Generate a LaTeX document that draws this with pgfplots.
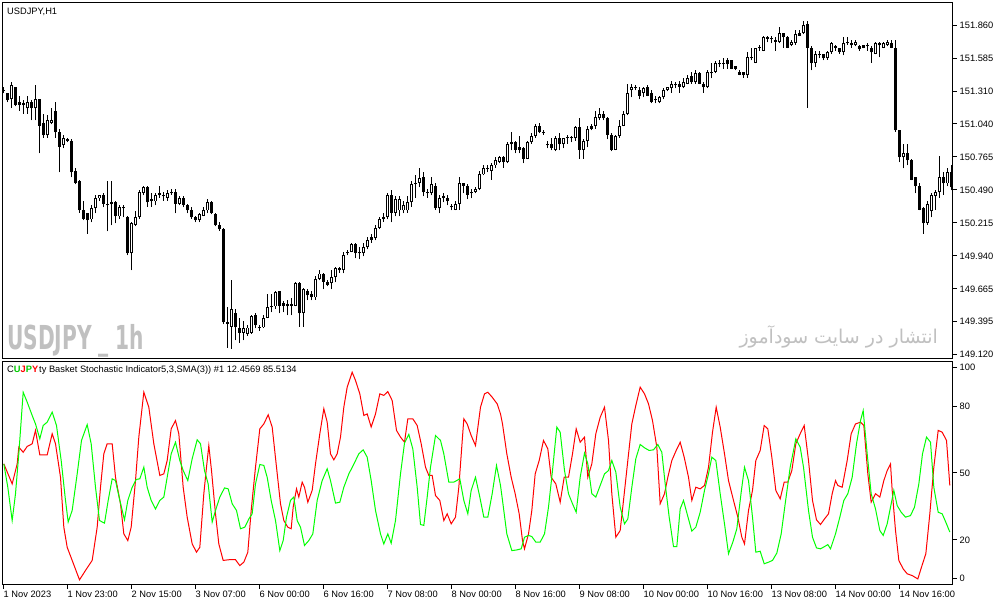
\documentclass[border=0pt]{standalone}
\usepackage{fontspec}
\setmainfont{Liberation Sans}
\newfontfamily\arabicfont[Script=Arabic]{DejaVu Sans}
\newfontfamily\wmfont{DejaVu Sans Condensed}
\TeXXeTstate=1
\usepackage{pgfplots}
\usepackage{pgfplotstable}
\pgfplotsset{compat=1.18}
\definecolor{wm}{RGB}{192,192,192}
\newcommand{\tf}{\fontsize{9.3bp}{11bp}\selectfont}

\pgfplotstableread{
i o h l c
0 151.326 151.351 151.293 151.310
1 151.293 151.301 151.218 151.235
2 151.243 151.385 151.176 151.360
3 151.343 151.351 151.185 151.201
4 151.218 151.276 151.151 151.201
5 151.210 151.235 151.126 151.193
6 151.168 151.276 151.126 151.218
7 151.218 151.235 151.068 151.168
8 151.168 151.360 151.068 151.243
9 151.243 151.251 150.793 151.026
10 151.043 151.126 150.926 150.943
11 150.943 151.110 150.926 151.068
12 151.043 151.168 151.035 151.076
13 151.151 151.226 150.926 150.968
14 150.976 151.001 150.635 150.851
15 150.860 150.943 150.835 150.918
16 150.910 150.926 150.885 150.893
17 150.901 150.910 150.593 150.635
18 150.651 150.676 150.535 150.551
19 150.560 150.568 150.301 150.318
20 150.326 150.393 150.235 150.251
21 150.293 150.301 150.126 150.235
22 150.243 150.360 150.218 150.335
23 150.335 150.443 150.293 150.418
24 150.418 150.451 150.401 150.443
25 150.451 150.460 150.343 150.376
26 150.360 150.560 150.143 150.376
27 150.385 150.560 150.193 150.368
28 150.385 150.401 150.210 150.268
29 150.268 150.360 150.251 150.343
30 150.351 150.360 150.260 150.335
31 150.260 150.276 149.943 149.960
32 149.960 150.226 149.818 150.210
33 150.201 150.310 150.185 150.260
34 150.260 150.485 150.251 150.468
35 150.460 150.526 150.443 150.510
36 150.510 150.526 150.351 150.385
37 150.410 150.460 150.351 150.393
38 150.393 150.460 150.360 150.443
39 150.443 150.518 150.426 150.460
40 150.435 150.468 150.401 150.451
41 150.426 150.485 150.401 150.460
42 150.460 150.501 150.451 150.476
43 150.476 150.493 150.293 150.376
44 150.376 150.435 150.360 150.418
45 150.418 150.435 150.343 150.360
46 150.360 150.368 150.293 150.318
47 150.326 150.343 150.251 150.260
48 150.260 150.276 150.218 150.235
49 150.235 150.293 150.218 150.285
50 150.276 150.343 150.268 150.318
51 150.318 150.410 150.293 150.385
52 150.385 150.401 150.285 150.293
53 150.285 150.301 150.185 150.193
54 150.201 150.218 150.151 150.160
55 150.160 150.168 149.368 149.385
56 149.376 149.510 149.176 149.385
57 149.351 149.735 149.168 149.501
58 149.460 149.501 149.235 149.343
59 149.343 149.418 149.218 149.301
60 149.301 149.401 149.235 149.335
61 149.293 149.360 149.276 149.343
62 149.301 149.443 149.293 149.435
63 149.443 149.460 149.335 149.360
64 149.335 149.368 149.318 149.351
65 149.343 149.443 149.335 149.426
66 149.426 149.626 149.418 149.510
67 149.510 149.626 149.468 149.518
68 149.518 149.651 149.501 149.635
69 149.643 149.651 149.460 149.526
70 149.551 149.568 149.468 149.526
71 149.535 149.568 149.443 149.518
72 149.535 149.585 149.443 149.526
73 149.526 149.718 149.518 149.710
74 149.710 149.718 149.351 149.460
75 149.460 149.676 149.351 149.660
76 149.651 149.668 149.568 149.610
77 149.626 149.651 149.568 149.593
78 149.593 149.776 149.576 149.751
79 149.751 149.818 149.735 149.793
80 149.793 149.801 149.660 149.726
81 149.718 149.735 149.685 149.701
82 149.710 149.818 149.660 149.760
83 149.760 149.851 149.718 149.835
84 149.835 149.851 149.801 149.818
85 149.826 149.968 149.793 149.951
86 149.960 149.985 149.943 149.968
87 149.976 150.051 149.968 150.035
88 150.035 150.051 149.918 149.960
89 149.968 150.010 149.910 149.960
90 149.960 150.043 149.935 150.010
91 150.010 150.101 149.993 150.076
92 150.076 150.118 150.051 150.093
93 150.085 150.193 150.068 150.176
94 150.176 150.260 150.160 150.251
95 150.243 150.293 150.226 150.260
96 150.260 150.460 150.243 150.443
97 150.443 150.485 150.218 150.301
98 150.301 150.435 150.268 150.410
99 150.318 150.435 150.268 150.410
100 150.318 150.401 150.293 150.360
101 150.318 150.435 150.301 150.385
102 150.385 150.560 150.351 150.535
103 150.535 150.610 150.426 150.551
104 150.551 150.676 150.510 150.585
105 150.593 150.635 150.435 150.468
106 150.476 150.493 150.426 150.460
107 150.460 150.601 150.443 150.535
108 150.526 150.543 150.326 150.335
109 150.335 150.443 150.293 150.426
110 150.435 150.460 150.385 150.418
111 150.426 150.443 150.360 150.393
112 150.351 150.368 150.318 150.343
113 150.326 150.393 150.318 150.376
114 150.376 150.593 150.326 150.543
115 150.543 150.551 150.460 150.526
116 150.526 150.535 150.410 150.451
117 150.476 150.501 150.418 150.460
118 150.468 150.510 150.460 150.493
119 150.501 150.651 150.485 150.626
120 150.618 150.693 150.610 150.668
121 150.676 150.701 150.635 150.660
122 150.651 150.710 150.576 150.693
123 150.693 150.760 150.676 150.735
124 150.726 150.776 150.710 150.760
125 150.760 150.776 150.676 150.718
126 150.718 150.885 150.710 150.868
127 150.868 150.968 150.818 150.885
128 150.885 150.893 150.793 150.826
129 150.843 150.935 150.793 150.826
130 150.835 150.843 150.710 150.751
131 150.751 150.901 150.743 150.885
132 150.885 150.960 150.876 150.935
133 150.935 151.035 150.926 151.018
134 151.018 151.043 150.960 150.968
135 150.976 150.985 150.951 150.960
136 150.876 150.901 150.835 150.860
137 150.876 150.918 150.818 150.835
138 150.826 150.935 150.810 150.918
139 150.918 150.960 150.818 150.868
140 150.868 150.926 150.835 150.918
141 150.926 150.943 150.876 150.918
142 150.926 150.935 150.885 150.918
143 150.918 151.026 150.901 151.010
144 151.010 151.085 150.751 150.826
145 150.826 150.910 150.751 150.893
146 150.893 151.018 150.843 151.001
147 151.001 151.035 150.985 151.018
148 151.018 151.151 151.001 151.093
149 151.085 151.168 151.068 151.126
150 151.126 151.151 151.068 151.085
151 151.085 151.101 150.910 150.951
152 150.951 150.960 150.810 150.826
153 150.826 150.951 150.818 150.935
154 150.935 151.068 150.926 151.026
155 151.026 151.151 151.018 151.126
156 151.126 151.376 151.110 151.301
157 151.318 151.376 151.260 151.351
158 151.351 151.360 151.318 151.335
159 151.318 151.343 151.243 151.276
160 151.293 151.351 151.260 151.335
161 151.343 151.360 151.268 151.276
162 151.301 151.318 151.210 151.218
163 151.251 151.276 151.210 151.235
164 151.218 151.276 151.210 151.260
165 151.260 151.335 151.243 151.318
166 151.318 151.351 151.310 151.343
167 151.335 151.401 151.301 151.376
168 151.368 151.385 151.335 151.360
169 151.368 151.401 151.301 151.351
170 151.343 151.418 151.335 151.385
171 151.376 151.443 151.368 151.426
172 151.435 151.468 151.376 151.385
173 151.385 151.485 151.376 151.460
174 151.460 151.476 151.368 151.376
175 151.376 151.385 151.301 151.343
176 151.343 151.485 151.335 151.468
177 151.460 151.551 151.418 151.476
178 151.476 151.560 151.460 151.543
179 151.543 151.568 151.510 151.535
180 151.543 151.585 151.501 151.535
181 151.576 151.585 151.501 151.535
182 151.568 151.576 151.493 151.501
183 151.518 151.526 151.485 151.501
184 151.476 151.485 151.443 151.451
185 151.468 151.476 151.426 151.443
186 151.443 151.635 151.426 151.593
187 151.585 151.668 151.568 151.601
188 151.551 151.676 151.543 151.668
189 151.668 151.693 151.651 151.676
190 151.651 151.776 151.643 151.760
191 151.760 151.768 151.718 151.751
192 151.751 151.776 151.710 151.743
193 151.735 151.760 151.651 151.726
194 151.718 151.843 151.710 151.793
195 151.793 151.801 151.676 151.760
196 151.760 151.768 151.668 151.676
197 151.693 151.735 151.685 151.726
198 151.710 151.818 151.701 151.785
199 151.776 151.826 151.768 151.793
200 151.793 151.893 151.785 151.860
201 151.868 151.893 151.176 151.676
202 151.676 151.685 151.485 151.543
203 151.543 151.643 151.510 151.626
204 151.618 151.651 151.585 151.610
205 151.618 151.626 151.568 151.585
206 151.585 151.651 151.576 151.635
207 151.635 151.718 151.626 151.710
208 151.685 151.693 151.651 151.676
209 151.668 151.676 151.626 151.635
210 151.635 151.760 151.610 151.710
211 151.710 151.760 151.701 151.718
212 151.710 151.735 151.676 151.693
213 151.693 151.735 151.685 151.718
214 151.685 151.693 151.651 151.660
215 151.676 151.701 151.668 151.693
216 151.693 151.710 151.651 151.685
217 151.676 151.685 151.551 151.635
218 151.626 151.718 151.618 151.710
219 151.693 151.718 151.593 151.710
220 151.676 151.718 151.668 151.710
221 151.693 151.735 151.685 151.718
222 151.710 151.735 151.668 151.676
223 151.676 151.735 150.976 150.985
224 150.985 150.985 150.718 150.760
225 150.760 150.876 150.668 150.801
226 150.801 150.876 150.693 150.735
227 150.735 150.751 150.568 150.576
228 150.593 150.601 150.460 150.518
229 150.518 150.551 150.318 150.326
230 150.335 150.351 150.126 150.210
231 150.210 150.393 150.201 150.376
232 150.310 150.460 150.260 150.443
233 150.435 150.485 150.326 150.468
234 150.468 150.776 150.426 150.601
235 150.601 150.635 150.451 150.543
236 150.543 150.668 150.518 150.635
237 150.635 150.693 150.485 150.510
}\candles

\pgfplotstableread{
x y
0.08 54.1
2.17 45.1
3.42 54.1
3.83 61.6
4.92 59.3
5.92 61.9
7.17 63.1
8 69.1
9.08 58.1
10.92 58.1
12.17 67.6
13 63.1
14.25 48.1
15.08 25.7
15.92 16.7
17.17 10.8
19 2.1
20.5 6.3
22.17 10.8
23.42 25.7
24.25 43.6
25.08 58.6
25.92 63.1
27.17 63.1
28 48.1
29.25 36.2
30.08 22.7
31.08 19.7
31.92 25.7
33 46.6
33.83 66.1
35.08 86.2
36.33 79.5
37.58 63.1
39.08 48.9
40.08 49.6
40.92 55.6
41.92 69.8
43 73.5
43.83 67.6
44.92 43.6
45.92 30.2
47.17 18.2
48.25 14.5
49.08 16.7
50.08 40.7
50.75 52.6
51.33 62.3
52 51.1
53 31.7
53.83 18.2
54.92 10.8
56.33 11.1
58 11.1
59.08 8.5
60.08 10.0
61.08 14.5
61.92 33.2
63 52.6
64.08 69.8
65.08 72.0
66.17 76.1
67.17 70.6
68.25 52.6
69.25 36.2
70.08 28.7
71.08 25.7
71.92 25.0
72.42 34.7
73.25 42.9
73.83 39.2
74.67 45.9
75.25 43.6
76.08 36.9
77.17 42.2
78 54.1
79.08 67.6
80.08 78.8
80.92 72.8
81.75 58.6
82.58 55.9
83.42 58.6
84.25 66.1
85.08 79.5
85.92 88.5
87.17 95.2
88 91.5
89.08 85.5
90.08 75.8
90.92 76.5
91.92 70.6
93 76.5
94.08 85.5
95.08 84.8
96.08 86.5
97.17 82.5
98.25 69.1
99.25 66.1
100.25 63.8
101.08 74.3
102.33 74.3
103.42 71.3
104.42 63.1
105.5 52.6
106.33 48.9
107.17 48.9
108 39.9
109.08 37.7
110.08 28.7
110.92 31.7
111.92 27.2
113 30.2
113.83 43.6
115.08 74.3
115.92 72.0
116.92 66.8
118 62.3
119.25 79.5
120.25 85.5
121.08 86.2
122.17 84.0
123.42 81.0
124.25 76.5
124.75 72.0
125.83 58.6
126.92 48.1
127.92 40.7
128.92 31.7
129.75 19.7
130.25 16.0
131.25 22.7
132.08 33.2
132.92 49.6
133.92 55.6
135 64.6
136.08 60.8
136.92 48.1
138.08 45.1
139.17 36.9
140.17 48.1
141.25 48.1
142.25 58.6
143.17 69.8
144.17 63.8
145.25 66.1
146.08 48.1
147.08 54.1
148.08 67.6
149.17 75.0
150.25 79.5
151.25 64.6
152.08 40.7
153.08 21.2
154.17 24.2
155 37.7
156.08 55.6
157.08 72.0
158.08 80.3
159.17 88.5
160.25 85.5
161.25 81.0
162.25 73.5
163.33 61.6
164.17 36.2
165.25 40.7
166.08 48.1
167.08 55.6
168.17 60.1
169.17 63.8
170.17 57.1
171.25 48.1
172.08 37.7
173.08 43.6
174.17 42.9
175.25 44.4
176.25 52.6
177.25 68.3
178.17 79.5
179.17 70.6
180.25 58.6
181.25 46.6
182.5 37.7
183.58 30.2
184.58 21.2
185.25 18.2
186.25 33.2
187.25 42.2
188.08 55.6
189.17 60.1
190.17 71.3
191.08 69.8
192.08 57.1
193.08 42.2
194.17 38.4
195.17 45.9
196.08 45.9
197.08 51.1
198.08 63.1
199.17 67.6
200.17 71.3
201.25 55.6
202.25 37.7
203.25 29.0
204.25 26.9
205.25 29.4
206.25 31.7
207.17 40.7
208 46.6
208.58 44.4
209.67 43.6
210.92 55.6
211.92 67.6
213 72.0
214.25 72.8
215.08 71.3
216.08 49.6
216.92 36.9
218 40.7
219.08 39.2
220.08 46.6
220.92 51.1
221.75 54.1
222.17 42.2
223 24.2
223.83 10.8
224.92 7.0
225.92 4.8
227.17 4.0
228.58 2.5
229.5 7.8
230.58 13.8
231.58 31.7
232.58 52.6
233.67 69.1
234.67 68.3
235.75 64.6
236.58 44.4
}\redline

\pgfplotstableread{
x y
0.08 54.1
1.08 43.6
2.17 28.7
3 40.7
3.83 58.6
4.92 86.2
5.92 81.8
7.17 75.8
8 72.0
9.08 65.3
9.92 71.3
10.92 72.8
12.17 77.3
13.25 71.3
14.42 55.6
15.5 37.7
16.17 28.0
17.17 33.2
18.42 49.6
19.5 64.6
20.92 71.7
21.92 63.1
23 43.6
24 28.7
25.25 27.5
26.17 37.7
27.17 47.4
28 46.6
29.08 37.7
30.25 29.0
31.08 37.7
32.17 43.6
33.17 47.1
34.08 47.4
35.08 52.6
35.92 43.6
36.92 37.7
38 33.9
39.08 37.7
40.08 39.2
40.92 48.1
41.92 58.6
43 63.8
44.08 55.6
44.92 51.1
46.08 46.6
47.17 56.4
48.42 64.9
49.25 63.1
50.25 51.1
51.17 45.1
52.17 28.0
53 33.2
54.08 39.2
55.25 43.3
56.17 42.9
57.17 36.2
58.25 33.2
59.25 25.0
60.33 25.7
61.33 29.4
62.17 31.7
63 45.1
64.08 53.8
65.08 53.4
65.92 48.1
66.92 37.7
68 28.7
69.08 15.2
69.92 19.7
70.75 30.2
71.75 37.7
72.58 39.2
73.42 28.7
74.25 25.7
75.25 17.5
76.33 19.7
77.33 22.7
78.42 37.7
79.67 46.6
80.92 51.9
81.75 46.6
83 36.5
84.08 36.9
85.08 43.6
86.33 49.6
87.42 53.4
88.83 58.6
89.92 60.4
90.92 57.1
91.92 46.6
93 33.2
94.25 22.7
95.08 18.2
96.08 22.7
96.92 18.5
98 28.7
99.25 49.6
100.25 63.4
101.33 67.3
102.33 60.8
103.42 43.6
104.25 26.9
105.08 26.5
105.92 39.2
106.75 52.6
108 66.8
109.25 64.6
110.08 58.6
111.33 45.9
112.58 45.9
114.08 47.4
115.08 37.7
116.08 31.7
116.92 42.2
118 48.1
119.08 39.2
120.08 30.2
121.08 30.2
122.17 40.7
123.25 53.4
124.25 44.4
124.75 37.7
125.83 22.7
127.08 15.2
128.33 15.5
129.42 16.0
130.25 21.2
131.25 22.0
132.08 21.5
133.08 19.0
134.17 19.0
135.25 22.7
136.25 34.7
137.25 51.1
138.33 70.6
139.17 68.3
140.25 51.1
141.25 40.7
142.25 36.2
143.17 32.4
144.17 48.1
145.25 58.9
146.08 54.1
147.08 40.7
148.08 39.2
149.17 44.4
150.25 49.6
151.25 51.1
152.08 55.6
153.08 50.4
154.17 34.7
155.25 27.2
156.08 29.4
157.08 43.6
158.08 56.4
159.17 62.8
160.25 61.3
161.42 60.1
162.5 60.4
163.58 62.8
164.58 59.3
165.42 45.1
166.42 30.2
167.5 17.0
168.33 17.0
169.17 33.9
170 37.7
171.08 30.5
172.08 23.9
173.08 25.7
174.17 32.4
175.25 42.2
176.25 49.6
177.08 57.1
178.08 55.6
179.17 40.7
180.25 27.2
181.25 13.8
182.33 19.0
183.33 25.0
184.42 41.4
185.25 52.6
186.25 46.6
187.25 30.2
188.08 14.5
189.17 14.9
190.17 9.3
191.25 10.0
192.25 10.8
193.33 14.1
194.42 22.7
195.42 36.2
196.67 52.6
198.08 65.3
199.17 61.6
200 52.6
201.25 33.2
202.25 21.2
203.25 16.4
204.25 16.0
205.25 17.0
206.08 17.9
206.75 16.0
208 22.7
209.08 30.2
210.08 37.7
211.08 40.7
212.17 48.1
213.25 63.1
214.25 73.5
214.92 78.0
215.92 58.6
216.92 40.7
218 33.9
219.08 24.2
219.92 22.0
220.92 27.2
221.92 36.2
222.58 42.2
223.42 35.4
224.42 32.4
225.5 30.2
226.75 30.9
227.75 34.7
228.83 45.1
229.75 58.6
230.75 66.1
231.75 63.8
232.58 43.6
233.67 32.4
234.67 31.7
235.75 27.2
236.58 23.5
}\greenline

\begin{document}
\begin{tikzpicture}
\path[fill=white, use as bounding box] (0,0) rectangle (998bp,605bp);

% ---------------- price panel ----------------
\begin{axis}[
  at={(2.5bp,246.5bp)}, anchor=south west,
  width=950bp, height=356bp, scale only axis,
  xmin=-0.25, xmax=237.25, ymin=149.0847, ymax=152.0513,
  xtick=\empty,
  ytick={149.120,149.395,149.665,149.940,150.215,150.490,150.765,151.040,151.310,151.585,151.860},
  yticklabels={149.120,149.395,149.665,149.940,150.215,150.490,150.765,151.040,151.310,151.585,151.860},
  ytick pos=right, yticklabel pos=right,
  tick align=outside, major tick length=4bp,
  yticklabel style={anchor=west, inner sep=0pt, xshift=3bp, font=\tf},
  axis line style={line width=1bp},
  every tick/.style={black, line width=1bp},
]
% wicks
\addplot[draw=none, mark=none, forget plot,
  error bars/.cd, y dir=plus, y explicit, error mark=none,
  error bar style={draw=black, solid, line width=1bp}]
  table[x=i, y=l, y error plus expr={\thisrow{h}-\thisrow{l}}] {\candles};
% bodies
\addplot[draw=none, mark=none, forget plot,
  error bars/.cd, y dir=plus, y explicit, error mark=none,
  error bar style={draw=black, solid, line width=3bp}]
  table[x=i, y expr={min(\thisrow{o},\thisrow{c})},
        y error plus expr={max(abs(\thisrow{c}-\thisrow{o}),0.009)}] {\candles};
% hollow interior of rising candles
\addplot[draw=none, mark=none, forget plot, restrict y to domain=149:153,
  error bars/.cd, y dir=plus, y explicit, error mark=none,
  error bar style={draw=white, solid, line width=1bp}]
  table[x=i, y expr={(\thisrow{c}-\thisrow{o}>0.02) ? (\thisrow{o}+0.0083) : 0},
        y error plus expr={\thisrow{c}-\thisrow{o}-0.0166}] {\candles};
\end{axis}

% ---------------- stochastic panel ----------------
\begin{axis}[
  at={(2.5bp,20.5bp)}, anchor=south west,
  width=950bp, height=223bp, scale only axis,
  xmin=-0.25, xmax=237.25, ymin=0, ymax=100,
  xtick={0,16,32,48,64,80,96,112,128,144,160,176,192,208,224},
  xticklabels={1 Nov 2023,1 Nov 23:00,2 Nov 15:00,3 Nov 07:00,6 Nov 00:00,6 Nov 16:00,7 Nov 08:00,8 Nov 00:00,8 Nov 16:00,9 Nov 08:00,10 Nov 00:00,10 Nov 16:00,13 Nov 08:00,14 Nov 00:00,14 Nov 16:00},
  xtick pos=bottom, xticklabel pos=bottom,
  ytick={2.7,20,50,80,97.3},
  yticklabels={0,20,50,80,100},
  ytick pos=right, yticklabel pos=right,
  tick align=outside, major tick length=4bp,
  yticklabel style={anchor=west, inner sep=0pt, xshift=3bp, font=\tf},
  xticklabel style={anchor=north west, inner sep=0pt, xshift=0bp, yshift=-2bp, font=\tf},
  axis line style={line width=1bp},
  every tick/.style={black, line width=1bp},
]
\addplot[red, line width=1bp, sharp plot] table[x=x, y=y] {\redline};
\addplot[green, line width=1bp, sharp plot] table[x=x, y=y] {\greenline};
\end{axis}

% ---------------- texts ----------------
\node[anchor=base west, inner sep=0pt, font=\tf] at (7bp,590.5bp) {USDJPY,H1};
\node[anchor=base west, inner sep=0pt, font=\tf] at (7bp,232bp)
  {C\textcolor{green!80!black}{\bfseries U}\textcolor{red}{\bfseries J}\textcolor{green!80!black}{\bfseries P}\textcolor{red}{\bfseries Y}\hspace{1bp}ty Basket Stochastic Indicator5,3,SMA(3)) \#1 12.4569 85.5134};
\node[anchor=base west, inner sep=0pt, text=wm] at (7bp,255bp)
  {\scalebox{0.68}[1]{\wmfont\fontsize{33bp}{36bp}\selectfont\bfseries USDJPY \_ 1h}};
\node[anchor=base east, inner sep=0pt, text=wm] at (938bp,261bp)
  {\arabicfont\fontsize{19bp}{23bp}\selectfont\beginR انتشار در سایت سودآموز\endR};
\end{tikzpicture}
\end{document}
